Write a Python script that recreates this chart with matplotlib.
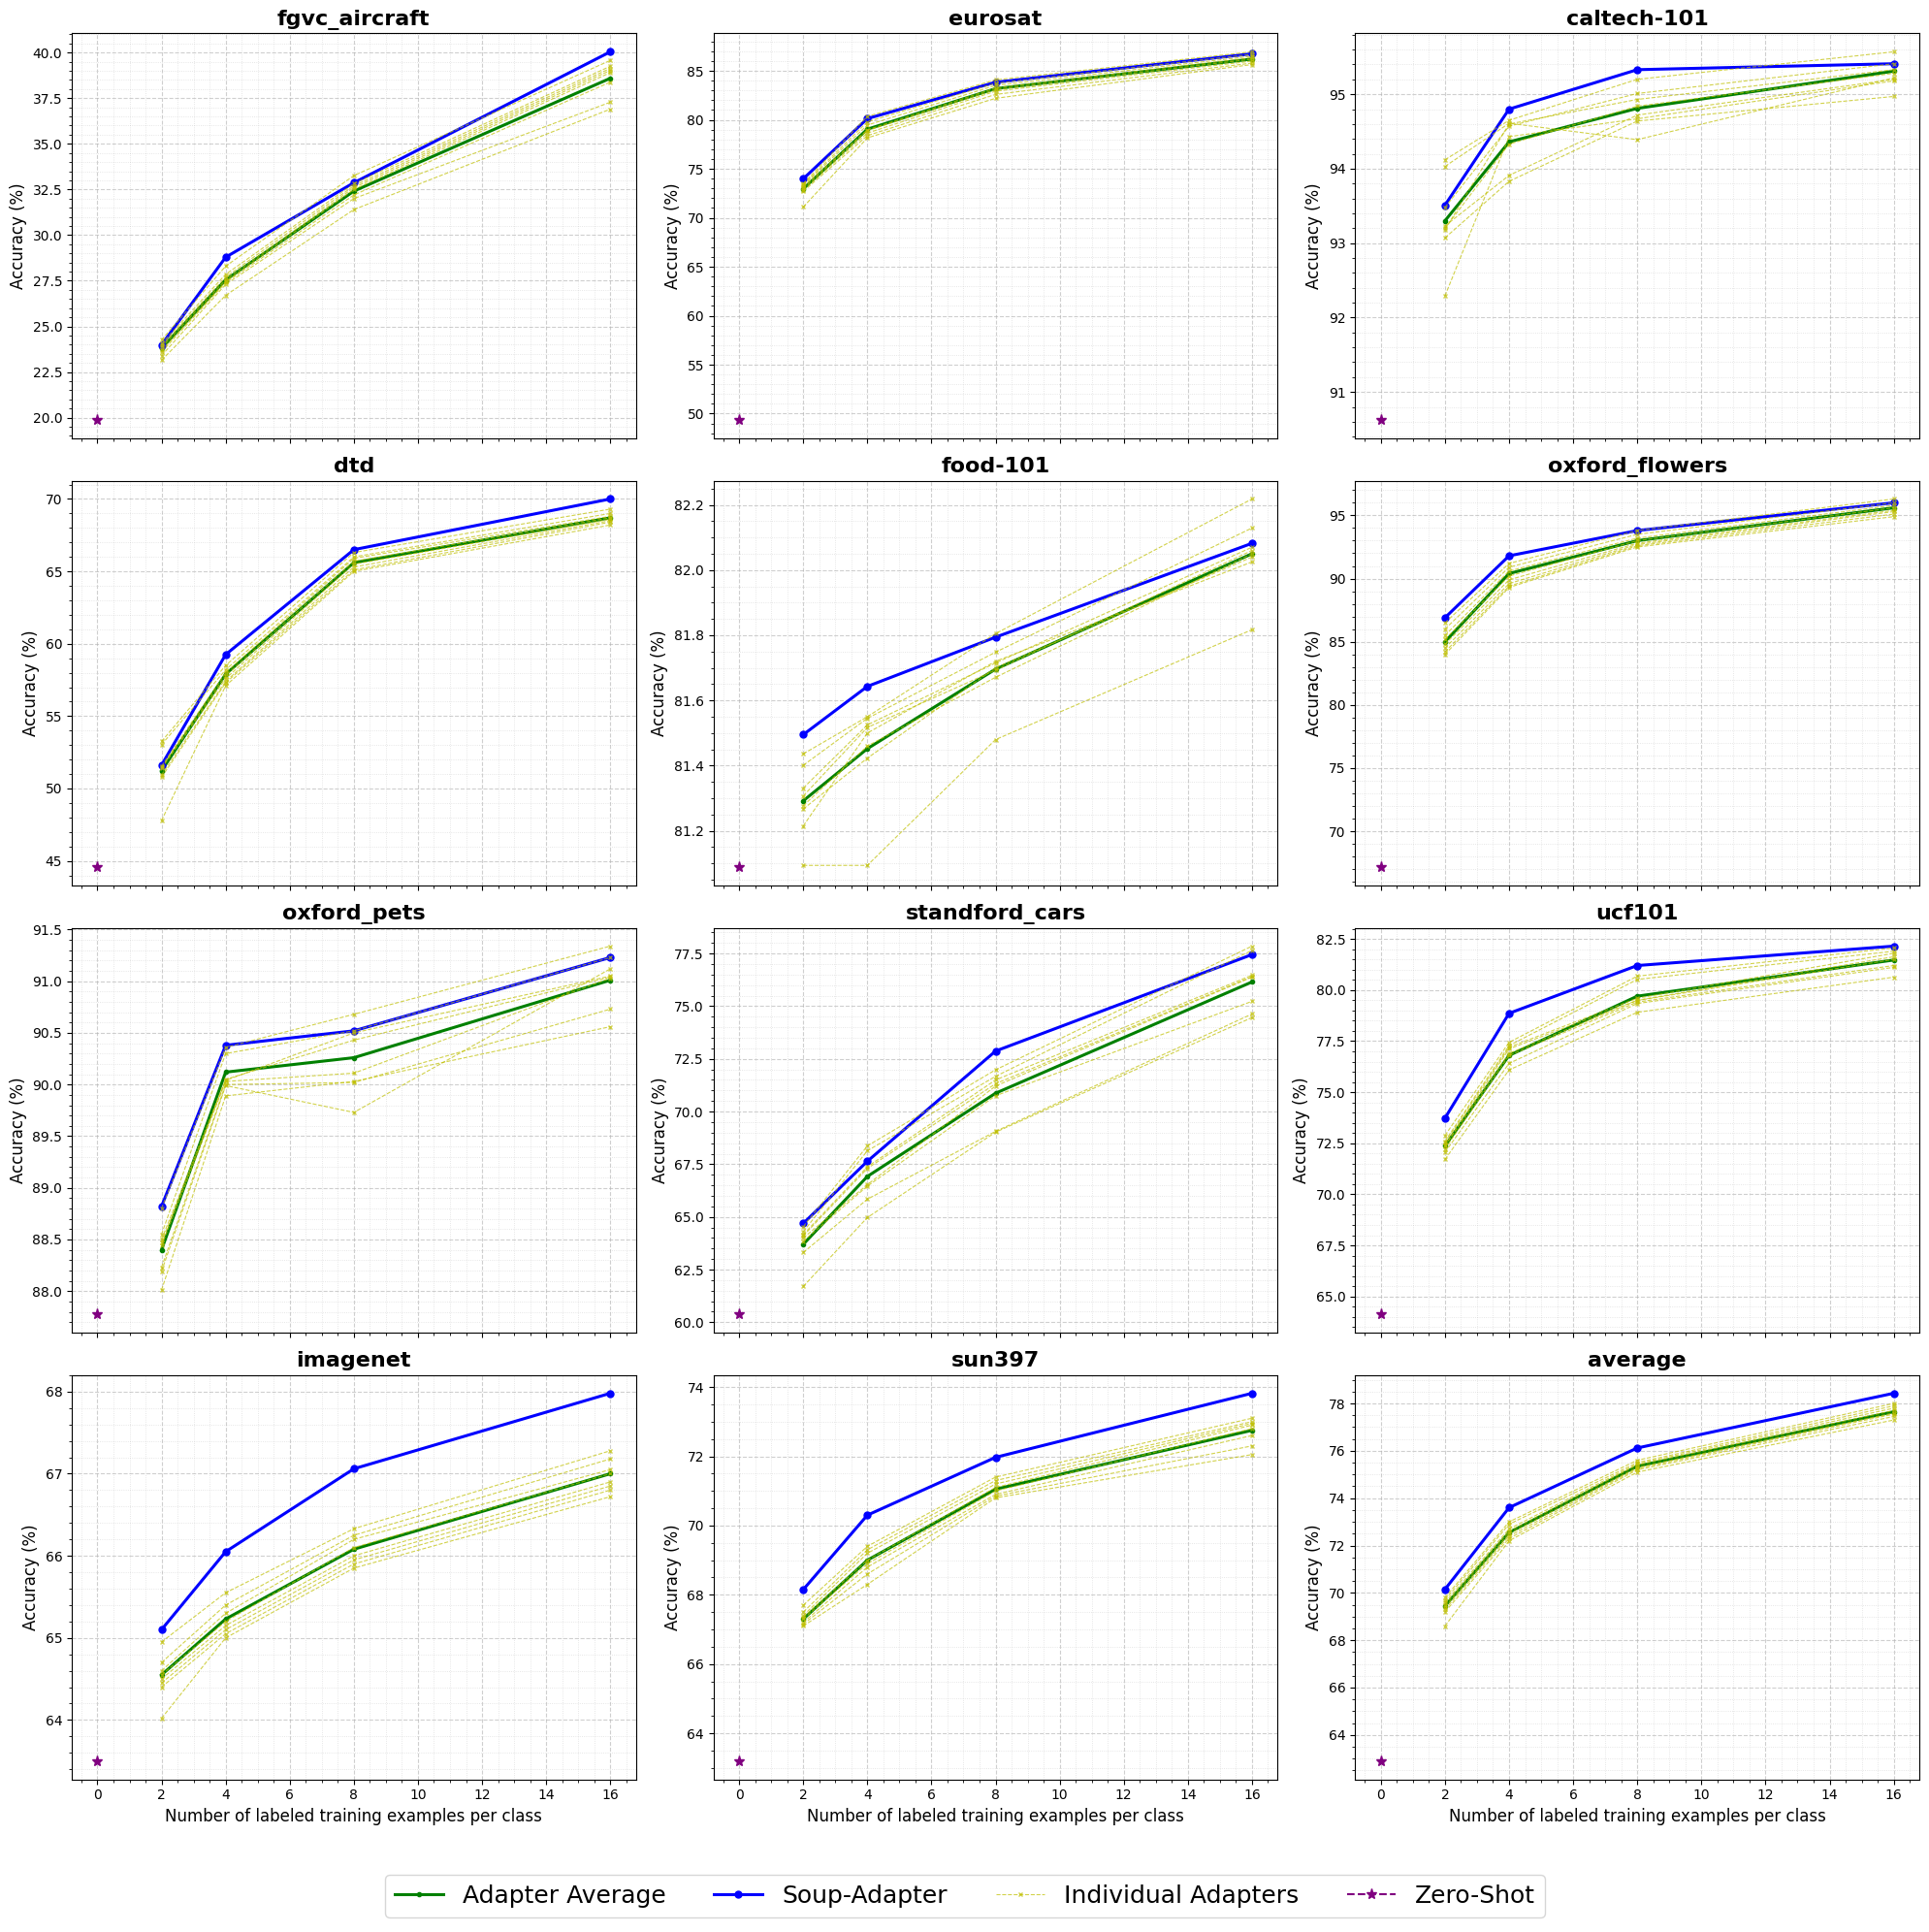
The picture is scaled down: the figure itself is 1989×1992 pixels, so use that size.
import matplotlib
matplotlib.use("Agg")
import matplotlib.pyplot as plt

SHOTS = [2, 4, 8, 16]
DATASETS = ["fgvc_aircraft", "eurosat", "caltech-101", "dtd", "food-101", "oxford_flowers",
            "oxford_pets", "standford_cars", "ucf101", "imagenet", "sun397", "average"]

# ---- fgvc_aircraft ----
FGVC_SOUP = [23.99, 28.79, 32.87, 40.04]
FGVC_AVG = [23.81, 27.55, 32.41, 38.59]
FGVC_ZS = 19.9
FGVC_IND = [
    [24.26, 28.30, 33.26, 39.57],
    [24.05, 27.85, 32.82, 39.25],
    [23.95, 27.70, 32.70, 39.13],
    [23.85, 27.55, 32.60, 39.02],
    [23.70, 27.45, 32.50, 38.90],
    [23.60, 27.40, 32.20, 38.38],
    [23.40, 27.30, 32.00, 37.28],
    [23.15, 26.70, 31.40, 36.90],
]
# ---- eurosat ----
EURO_SOUP = [73.98, 80.13, 83.84, 86.75]
EURO_AVG = [72.96, 79.05, 83.19, 86.21]
EURO_ZS = 49.4
EURO_IND = [
    [73.50, 80.36, 84.08, 86.95],
    [73.40, 79.80, 83.75, 86.70],
    [73.30, 79.47, 83.52, 86.50],
    [73.15, 78.98, 83.26, 86.35],
    [73.00, 78.90, 83.10, 86.20],
    [72.85, 78.65, 82.93, 86.00],
    [72.70, 78.39, 82.60, 85.80],
    [71.10, 78.16, 82.20, 85.65],
]
# ---- caltech-101 ----
CAL_SOUP = [93.51, 94.80, 95.33, 95.41]
CAL_AVG = [93.30, 94.36, 94.81, 95.31]
CAL_ZS = 90.63
CAL_IND = [
    [94.12, 94.65, 95.20, 95.57],
    [94.03, 94.61, 94.39, 95.22],
    [93.48, 94.57, 95.01, 95.41],
    [93.23, 93.91, 94.72, 95.20],
    [93.20, 94.33, 94.84, 95.28],
    [93.18, 94.60, 94.93, 95.33],
    [93.07, 93.83, 94.64, 94.97],
    [92.29, 94.43, 94.67, 95.18],
]
# ---- dtd ----
DTD_SOUP = [51.61, 59.25, 66.50, 70.00]
DTD_AVG = [51.23, 57.90, 65.60, 68.70]
DTD_ZS = 44.6
DTD_IND = [
    [53.25, 58.50, 66.30, 69.30],
    [53.03, 58.20, 66.00, 69.00],
    [51.55, 58.00, 65.90, 68.80],
    [51.45, 57.80, 65.70, 68.70],
    [51.39, 57.60, 65.50, 68.60],
    [50.94, 57.40, 65.30, 68.50],
    [50.78, 57.30, 65.10, 68.40],
    [47.78, 57.10, 65.00, 68.20],
]
# ---- food-101 ----
FOOD_SOUP = [81.495, 81.643, 81.794, 82.082]
FOOD_AVG = [81.292, 81.452, 81.696, 82.050]
FOOD_ZS = 81.09
FOOD_IND = [
    [81.436, 81.550, 81.805, 82.218],
    [81.401, 81.545, 81.748, 82.129],
    [81.331, 81.525, 81.715, 82.070],
    [81.307, 81.517, 81.693, 82.060],
    [81.277, 81.460, 81.671, 82.050],
    [81.267, 81.423, 81.700, 82.040],
    [81.215, 81.500, 81.720, 82.025],
    [81.094, 81.094, 81.480, 81.817],
]
# ---- oxford_flowers ----
FLOW_SOUP = [86.9, 91.8, 93.8, 96.0]
FLOW_AVG = [85.0, 90.4, 93.0, 95.6]
FLOW_ZS = 67.2
FLOW_IND = [
    [86.5, 91.2, 93.8, 96.3],
    [86.0, 90.9, 93.5, 96.0],
    [85.5, 90.6, 93.2, 95.8],
    [85.2, 90.2, 93.0, 95.6],
    [84.8, 89.9, 92.8, 95.4],
    [84.5, 89.6, 92.7, 95.3],
    [84.2, 89.4, 92.6, 95.1],
    [84.0, 89.3, 92.5, 94.9],
]
# ---- oxford_pets ----
PETS_SOUP = [88.82, 90.38, 90.52, 91.23]
PETS_AVG = [88.40, 90.12, 90.26, 91.01]
PETS_ZS = 87.78
PETS_IND = [
    [88.80, 90.36, 90.68, 91.34],
    [88.55, 90.30, 90.52, 91.23],
    [88.50, 90.05, 90.43, 91.04],
    [88.47, 90.04, 90.50, 91.05],
    [88.44, 90.03, 90.11, 91.03],
    [88.23, 90.00, 90.02, 90.73],
    [88.19, 89.99, 89.73, 91.12],
    [88.01, 89.89, 90.03, 90.56],
]
# ---- standford_cars ----
CARS_SOUP = [64.69, 67.64, 72.87, 77.45]
CARS_AVG = [63.70, 66.92, 70.87, 76.15]
CARS_ZS = 60.4
CARS_IND = [
    [64.54, 68.37, 71.98, 77.85],
    [64.30, 68.14, 71.67, 77.65],
    [64.16, 67.38, 71.50, 76.47],
    [64.10, 67.30, 71.32, 76.40],
    [64.00, 66.53, 71.21, 76.38],
    [63.85, 66.46, 70.75, 75.23],
    [63.31, 65.84, 69.06, 74.63],
    [61.70, 64.97, 69.02, 74.46],
]
# ---- ucf101 ----
UCF_SOUP = [73.73, 78.86, 81.20, 82.15]
UCF_AVG = [72.37, 76.80, 79.70, 81.47]
UCF_ZS = 64.15
UCF_IND = [
    [72.88, 77.44, 80.68, 82.06],
    [72.60, 77.28, 80.52, 81.90],
    [72.53, 77.20, 79.60, 81.80],
    [72.40, 77.12, 79.50, 81.63],
    [72.37, 76.90, 79.49, 81.50],
    [72.22, 76.80, 79.41, 81.20],
    [72.06, 76.41, 79.34, 81.11],
    [71.71, 76.09, 78.91, 80.63],
]
# ---- imagenet ----
IMNET_SOUP = [65.10, 66.05, 67.06, 67.98]
IMNET_AVG = [64.55, 65.23, 66.08, 67.00]
IMNET_ZS = 63.5
IMNET_IND = [
    [64.95, 65.55, 66.33, 67.28],
    [64.70, 65.40, 66.25, 67.18],
    [64.60, 65.30, 66.20, 67.05],
    [64.55, 65.20, 66.10, 67.00],
    [64.50, 65.15, 66.00, 66.90],
    [64.45, 65.10, 65.95, 66.85],
    [64.40, 65.05, 65.90, 66.80],
    [64.02, 65.00, 65.85, 66.72],
]
# ---- sun397 ----
SUN_SOUP = [68.15, 70.30, 71.97, 73.82]
SUN_AVG = [67.30, 69.00, 71.05, 72.75]
SUN_ZS = 63.2
SUN_IND = [
    [67.70, 69.40, 71.40, 73.10],
    [67.50, 69.30, 71.30, 73.00],
    [67.40, 69.20, 71.20, 72.95],
    [67.35, 69.00, 71.10, 72.90],
    [67.30, 68.90, 71.00, 72.80],
    [67.20, 68.80, 70.90, 72.60],
    [67.15, 68.60, 70.85, 72.30],
    [67.10, 68.30, 70.80, 72.05],
]
# ---- average ----
AVG_SOUP = [70.15, 73.60, 76.12, 78.43]
AVG_AVG = [69.45, 72.55, 75.35, 77.65]
AVG_ZS = 62.9
AVG_IND = [
    [69.80, 73.00, 75.60, 78.00],
    [69.70, 72.90, 75.50, 77.90],
    [69.60, 72.70, 75.45, 77.80],
    [69.50, 72.60, 75.40, 77.70],
    [69.40, 72.50, 75.30, 77.60],
    [69.30, 72.40, 75.25, 77.55],
    [69.20, 72.30, 75.20, 77.45],
    [68.60, 72.20, 75.10, 77.30],
]

SOUP = [FGVC_SOUP, EURO_SOUP, CAL_SOUP, DTD_SOUP, FOOD_SOUP, FLOW_SOUP,
        PETS_SOUP, CARS_SOUP, UCF_SOUP, IMNET_SOUP, SUN_SOUP, AVG_SOUP]
AVG = [FGVC_AVG, EURO_AVG, CAL_AVG, DTD_AVG, FOOD_AVG, FLOW_AVG,
       PETS_AVG, CARS_AVG, UCF_AVG, IMNET_AVG, SUN_AVG, AVG_AVG]
ZS = [FGVC_ZS, EURO_ZS, CAL_ZS, DTD_ZS, FOOD_ZS, FLOW_ZS,
      PETS_ZS, CARS_ZS, UCF_ZS, IMNET_ZS, SUN_ZS, AVG_ZS]
IND = [FGVC_IND, EURO_IND, CAL_IND, DTD_IND, FOOD_IND, FLOW_IND,
       PETS_IND, CARS_IND, UCF_IND, IMNET_IND, SUN_IND, AVG_IND]

fig, axes = plt.subplots(4, 3, figsize=(19.9, 19.92), dpi=100, sharex=True)
fig.subplots_adjust(left=0.0372, right=0.9945, top=0.9827, bottom=0.079,
                    wspace=0.1375, hspace=0.1055)

handles = None
for i, ax in enumerate(axes.flat):
    h_avg, = ax.plot(SHOTS, AVG[i], color='green', linewidth=2.2, marker='o',
                     markersize=3, label='Adapter Average')
    h_soup, = ax.plot(SHOTS, SOUP[i], color='blue', linewidth=2.2, marker='o',
                      markersize=5, label='Soup-Adapter')
    h_ind = None
    for j, series in enumerate(IND[i]):
        h, = ax.plot(SHOTS, series, color='y', linestyle='--', linewidth=0.8,
                     marker='x', markersize=3, alpha=0.7,
                     label='Individual Adapters' if j == 0 else None)
        if j == 0:
            h_ind = h
    h_zs, = ax.plot([0], [ZS[i]], color='purple', linestyle='--', marker='*',
                    markersize=8, label='Zero-Shot')
    handles = [h_avg, h_soup, h_ind, h_zs]

    ax.set_title(DATASETS[i], fontsize=16, fontweight='bold')
    ax.set_ylabel('Accuracy (%)', fontsize=12)
    ax.minorticks_on()
    ax.grid(which='major', linestyle='--', linewidth=0.8, alpha=0.6)
    ax.grid(which='minor', linestyle=':', linewidth=0.6, alpha=0.4)
    ax.set_xticks([0, 2, 4, 6, 8, 10, 12, 14, 16])
    if i >= 9:
        ax.set_xlabel('Number of labeled training examples per class', fontsize=12)

fig.legend(handles, ['Adapter Average', 'Soup-Adapter', 'Individual Adapters', 'Zero-Shot'],
           loc='center', bbox_to_anchor=(0.5, 0.0186), ncol=4, fontsize=18)

fig.savefig('out.png', dpi=100)
